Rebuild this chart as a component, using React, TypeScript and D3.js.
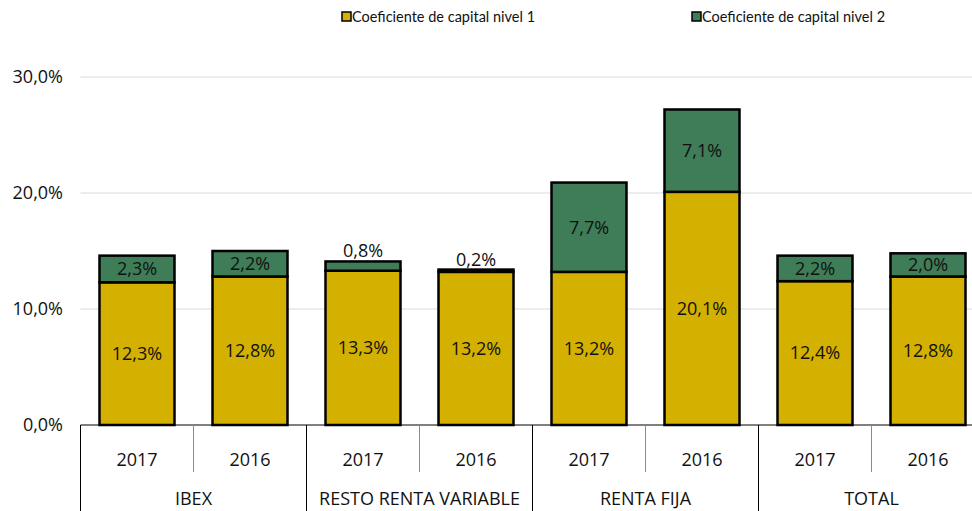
import React from "react";
import * as d3 from "d3";

const groups = ["IBEX", "RESTO RENTA VARIABLE", "RENTA FIJA", "TOTAL"];
const years = ["2017", "2016"];
const tier1 = [12.3, 12.8, 13.3, 13.2, 13.2, 20.1, 12.4, 12.8];
const tier2 = [2.3, 2.2, 0.8, 0.2, 7.7, 7.1, 2.2, 2.0];
const yTicks = [0, 10, 20, 30];
const seriesNames = ["Coeficiente de capital nivel 1", "Coeficiente de capital nivel 2"];

const W = 972;
const H = 511;
const FONT = "'Open Sans', 'Noto Sans', sans-serif";
const GOLD = "#D4B000";
const GREEN = "#3E7D58";

const fmt = (v: number) => v.toFixed(1).replace(".", ",") + "%";

export default function App() {
  const left = 80.5;
  const step = 113;
  const nBars = tier1.length;
  const x = d3
    .scaleBand<number>()
    .domain(d3.range(nBars))
    .range([left, left + step * nBars])
    .paddingInner(38 / 113)
    .paddingOuter(19 / 113);
  const y = d3.scaleLinear().domain([0, 30]).range([425, 77]);
  const bw = x.bandwidth();

  return (
    <svg width={W} height={H} style={{ position: "absolute", left: 0, top: 0 }} fontFamily={FONT}>
      {/* gridlines */}
      {yTicks.slice(1).map((t) => (
        <line key={t} x1={left} x2={W} y1={y(t)} y2={y(t)} stroke="#D9D9D9" strokeWidth={1} />
      ))}
      {/* y labels */}
      {yTicks.map((t) => (
        <text key={t} x={63} y={y(t)} dy="0.35em" textAnchor="end" fontSize={18} fill="#111">
          {fmt(t)}
        </text>
      ))}
      {/* bars */}
      {tier1.map((v, i) => {
        const x0 = x(i)!;
        const t2 = tier2[i];
        const yTop1 = y(v);
        const yTop2 = y(v + t2);
        return (
          <g key={i}>
            <rect x={x0} y={yTop1} width={bw} height={y(0) - yTop1} fill={GOLD} stroke="#000" strokeWidth={2.5} />
            <rect x={x0} y={yTop2} width={bw} height={yTop1 - yTop2} fill={GREEN} stroke="#000" strokeWidth={2.5} />
            <text x={x0 + bw / 2} y={(yTop1 + y(0)) / 2} dy="0.35em" textAnchor="middle" fontSize={18} fill="#111">
              {fmt(v)}
            </text>
            {t2 >= 1.5 ? (
              <text x={x0 + bw / 2} y={(yTop1 + yTop2) / 2} dy="0.35em" textAnchor="middle" fontSize={18} fill="#111">
                {fmt(t2)}
              </text>
            ) : (
              <text x={x0 + bw / 2} y={yTop2 - 4} textAnchor="middle" fontSize={18} fill="#111">
                {fmt(t2)}
              </text>
            )}
          </g>
        );
      })}
      {/* axis line */}
      <line x1={left} x2={W} y1={y(0)} y2={y(0)} stroke="#000" strokeWidth={1} />
      {/* year dividers and labels */}
      {tier1.map((_, i) => {
        const cx = left + step * i + step / 2;
        return (
          <g key={"yr" + i}>
            <text x={cx} y={460} dy="0.35em" textAnchor="middle" fontSize={18} fill="#111">
              {years[i % 2]}
            </text>
            {i % 2 === 1 && (
              <line x1={left + step * i} x2={left + step * i} y1={425} y2={472} stroke="#8c8c8c" strokeWidth={1} />
            )}
          </g>
        );
      })}
      {/* group dividers and labels */}
      {groups.map((g, gi) => {
        const gx = left + step * 2 * gi;
        return (
          <g key={g}>
            <line x1={gx} x2={gx} y1={425} y2={H} stroke="#000" strokeWidth={1} />
            <text x={gx + step} y={499} dy="0.35em" textAnchor="middle" fontSize={18} fill="#111">
              {g}
            </text>
          </g>
        );
      })}
      {/* legend */}
      {seriesNames.map((s, i) => {
        const lx = [342, 692][i];
        return (
          <g key={s}>
            <rect x={lx} y={12} width={9} height={9} fill={i === 0 ? GOLD : GREEN} stroke="#000" strokeWidth={1.5} />
            <text x={lx + 10} y={17} dy="0.35em" fontSize={14.5} fill="#111" fontFamily="Lato, 'Open Sans', sans-serif">
              {s}
            </text>
          </g>
        );
      })}
    </svg>
  );
}
